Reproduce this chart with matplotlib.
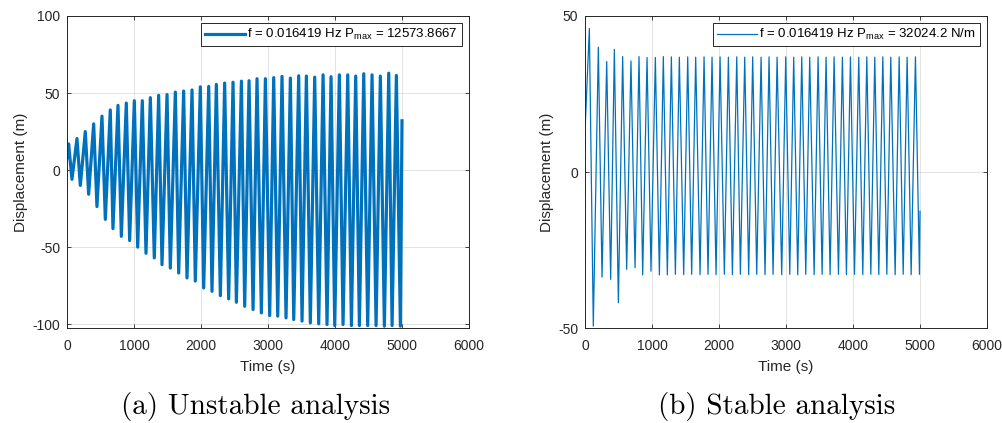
import numpy as np
import matplotlib
matplotlib.use('Agg')
import matplotlib.pyplot as plt

plt.rcParams['font.family'] = ['Liberation Sans', 'DejaVu Sans']
plt.rcParams['axes.unicode_minus'] = False
plt.rcParams['mathtext.default'] = 'regular'

# Unstable case: peak / trough times (s) and displacements (m)
left_start = (0, 8)
left_end = (5000, 32)
left_peak_t = [24, 149, 273, 398, 522, 646, 761, 885, 1005, 1124, 1244, 1368, 1493, 1617,
               1741, 1866, 1990, 2115, 2229, 2353, 2478, 2603, 2717, 2836, 2961, 3085, 3209,
               3334, 3458, 3573, 3697, 3822, 3941, 4065, 4190, 4309, 4429, 4553, 4677, 4802, 4916]
left_peak_v = [17, 20.5, 25, 30, 35, 39, 42, 43.5, 45, 45, 47, 48.5, 49, 50.6, 51.3, 52, 54,
               54.3, 55.6, 56.5, 57, 57.7, 58, 59.3, 59.3, 60, 60.8, 59.7, 61.2, 61.0, 60.3,
               61.8, 60.6, 61.8, 61.8, 61.0, 62.5, 61.8, 61.0, 62.9, 61.4]
left_trough_t = [74, 199, 323, 447, 572, 686, 811, 935, 1055, 1179, 1303, 1418, 1542, 1667,
                 1791, 1915, 2040, 2164, 2289, 2413, 2528, 2652, 2777, 2901, 3025, 3145, 3269,
                 3384, 3508, 3632, 3757, 3881, 3996, 4120, 4245, 4364, 4488, 4613, 4737, 4852, 4976]
left_trough_v = [-6, -10, -15.7, -23.7, -32, -38, -43, -45.7, -50, -54, -57, -61.4, -63.6,
                 -66.8, -70, -72, -76.5, -78.7, -81.5, -83.6, -85.8, -88.4, -90.5, -92.7, -94.4,
                 -94.8, -95.9, -97, -98, -99.2, -99.8, -100.2, -100.9, -100.2, -100.9, -100.9,
                 -100.9, -100.9, -101.3, -100.9, -101.3]

# Stable case
right_start = [(0, 0), (6, 16)]
right_end = (5000, -12.6)
right_peak_t = [65, 199, 324, 438, 562, 686, 806, 926, 1050, 1169, 1289, 1408, 1533, 1652,
                1777, 1896, 2016, 2140, 2265, 2384, 2503, 2628, 2747, 2867, 2996, 3115, 3235,
                3354, 3479, 3598, 3718, 3842, 3962, 4086, 4206, 4325, 4445, 4564, 4689, 4808, 4932]
right_peak_v = [46, 40, 35.4, 39.3, 37, 35.6, 37, 36.7, 36.7, 37, 36.9, 36.8, 36.9, 36.8,
                36.9, 36.8, 36.9, 36.8, 36.9, 36.8, 36.9, 36.8, 36.9, 36.8, 36.9, 36.8, 36.9,
                36.8, 36.9, 36.8, 36.9, 36.8, 36.9, 36.8, 36.9, 36.8, 36.9, 36.8, 36.9, 36.8, 36.9]
right_trough_t = [124, 254, 383, 498, 622, 747, 861, 985, 1110, 1229, 1349, 1473, 1592, 1717,
                  1836, 1956, 2080, 2200, 2319, 2443, 2563, 2687, 2807, 2936, 3056, 3175, 3295,
                  3420, 3539, 3658, 3783, 3902, 4022, 4146, 4266, 4385, 4505, 4629, 4749, 4868, 4992]
right_trough_v = [-49.4, -33.7, -34.4, -41.9, -31.2, -30.7, -33, -31.8, -33, -33, -32.8, -32.9,
                  -32.8, -32.9, -32.8, -32.9, -32.8, -32.9, -32.8, -32.9, -32.8, -32.9, -32.8,
                  -32.9, -32.8, -32.9, -32.8, -32.9, -32.8, -32.9, -32.8, -32.9, -32.8, -32.9,
                  -32.8, -32.9, -32.8, -32.9, -32.8, -32.9, -32.8]

xticks = [0, 1000, 2000, 3000, 4000, 5000, 6000]
left_yticks = [-100, -50, 0, 50, 100]
right_yticks = [-50, 0, 50]

left_label = 'f = 0.016419 Hz P$_{max}$ = 12573.8667'
right_label = 'f = 0.016419 Hz P$_{max}$ = 32024.2 N/m'
captions = ['(a) Unstable analysis', '(b) Stable analysis']


def build_series(starts, peak_t, peak_v, trough_t, trough_v, end):
    t = [p[0] for p in starts] + peak_t + trough_t + [end[0]]
    v = [p[1] for p in starts] + peak_v + trough_v + [end[1]]
    order = np.argsort(t, kind='stable')
    return np.array(t)[order], np.array(v)[order]


lt, lv = build_series([left_start], left_peak_t, left_peak_v, left_trough_t, left_trough_v, left_end)
rt, rv = build_series(right_start, right_peak_t, right_peak_v, right_trough_t, right_trough_v, right_end)

W, H = 1003, 423
fig = plt.figure(figsize=(W / 100, H / 100), dpi=100)
ax1 = fig.add_axes([67 / W, 1 - 328 / H, 402 / W, 312 / H])
ax2 = fig.add_axes([585 / W, 1 - 328 / H, 402 / W, 312 / H])

blue = '#0072BD'
ax1.plot(lt, lv, color=blue, linewidth=2.3, label=left_label)
ax2.plot(rt, rv, color=blue, linewidth=0.9, label=right_label)

for ax, yt, ylim in [(ax1, left_yticks, (-102.5, 100)), (ax2, right_yticks, (-50, 50))]:
    ax.set_xlim(0, 6000)
    ax.set_ylim(*ylim)
    ax.set_xticks(xticks)
    ax.set_yticks(yt)
    ax.grid(True, color='#262626', alpha=0.13, linewidth=0.7)
    ax.tick_params(direction='in', length=3, width=0.6, colors='#262626',
                   labelsize=10, top=True, right=True, pad=5)
    ax.tick_params(axis='x', pad=8)
    for s in ax.spines.values():
        s.set_color('#262626')
        s.set_linewidth(0.7)
    ax.set_xlabel('Time (s)', fontsize=11, color='#262626', labelpad=5)
    ax.set_ylabel('Displacement (m)', fontsize=11, color='#262626', labelpad=3)
    leg = ax.legend(loc='upper right', fontsize=9.5, frameon=True, fancybox=False,
                    borderpad=0.3, handlelength=3.0, handletextpad=0.2,
                    borderaxespad=0.55)
    leg.get_frame().set_edgecolor('#262626')
    leg.get_frame().set_linewidth(0.7)
    leg.get_frame().set_alpha(1)

fig.text(256 / W, 1 - 406 / H, captions[0], family='cmr10', fontsize=21,
         ha='center', va='center')
fig.text(777 / W, 1 - 406 / H, captions[1], family='cmr10', fontsize=21,
         ha='center', va='center')

fig.savefig('out.png', dpi=100)
